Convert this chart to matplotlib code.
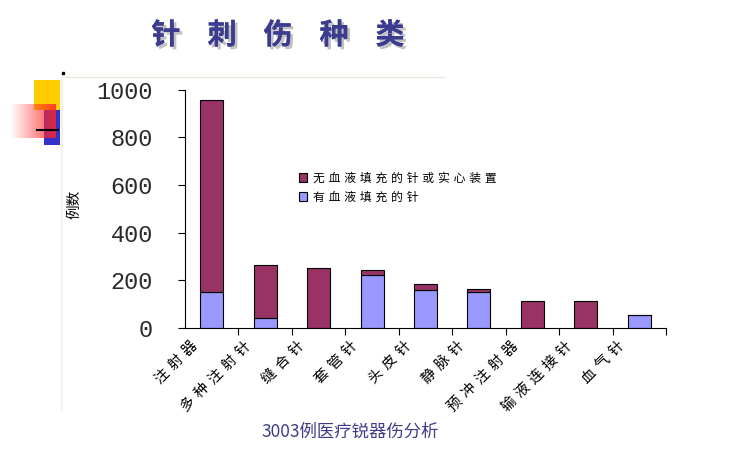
import numpy as np
import matplotlib.pyplot as plt
import matplotlib.patheffects as pe

plt.rcParams['font.family'] = ['Noto Sans CJK SC', 'DejaVu Sans']

# --- データ ---
title_chars = ['针', '刺', '伤', '种', '类']
categories = ['注射器', '多种注射针', '缝合针', '套管针', '头皮针',
              '静脉针', '预冲注射器', '输液连接针', '血气针']
blood_filled = [150, 42, 0, 222, 161, 152, 0, 0, 55]
no_blood = [805, 221, 252, 20, 22, 12, 115, 115, 0]
legend_labels = ['无血液填充的针或实心装置', '有血液填充的针']
y_ticks = [0, 200, 400, 600, 800, 1000]

c_purple = '#993366'
c_blue = '#9999ff'


def spaced(s, gap='\u2005'):
    # 文字間を少し空ける
    return gap.join(s)


fig = plt.figure(figsize=(7.5, 4.5), dpi=100)

# --- 背景の飾り ---
deco = fig.add_axes([0, 0, 1, 1], zorder=-1)
deco.set_xlim(0, 750)
deco.set_ylim(450, 0)
deco.axis('off')
deco.plot([65, 445], [77, 77], color='#ebe7dc', lw=1)
deco.plot([62, 62], [80, 410], color='#f3f1ea', lw=1.5)
deco.add_patch(plt.Rectangle((34, 80), 26, 30, color='#ffcc00', lw=0))
deco.add_patch(plt.Rectangle((44, 110), 16, 35, color='#3333cc', lw=0))
grad = np.linspace(0, 1, 100)
img = np.zeros((1, 100, 4))
img[..., 0] = 1.0
img[..., 1] = 0.15
img[..., 2] = 0.15
img[..., 3] = grad * 0.85
deco.imshow(img, extent=(10, 56, 138, 104), aspect='auto', zorder=2)
deco.plot([37, 58], [130, 130], color='black', lw=1.5, zorder=3)
deco.plot([63], [73], 's', color='black', ms=2)

for k, ch in enumerate(title_chars):
    deco.text(166 + 56 * k, 35, ch, ha='center', va='center', fontsize=21,
              fontweight='bold', color='#3b3b8f',
              path_effects=[pe.withSimplePatchShadow(offset=(2, -2), shadow_rgbFace='#999999', alpha=0.6),
                            pe.Normal()])
fig.text(0.467, 0.04, '3003例医疗锐器伤分析', ha='center', va='center',
         fontsize=12.5, color='#3d3d8a')

# --- グラフ本体 ---
ax = fig.add_axes([0.2467, 0.2711, 0.6413, 0.5300])
x = np.arange(len(categories))
ax.bar(x, blood_filled, width=0.43, color=c_blue, edgecolor='black', lw=0.8,
       label=spaced(legend_labels[1], '\u2004'))
ax.bar(x, no_blood, width=0.43, bottom=blood_filled, color=c_purple,
       edgecolor='black', lw=0.8, label=spaced(legend_labels[0], '\u2004'))

ax.set_xlim(-0.5, len(categories) - 0.5)
ax.set_ylim(0, 1000)
ax.spines['top'].set_visible(False)
ax.spines['right'].set_visible(False)

ax.set_yticks(y_ticks)
ax.set_yticklabels([str(v) for v in y_ticks], family='Liberation Mono',
                   fontsize=17, color='#2a2a2a')
ax.tick_params(axis='y', direction='out', length=5, pad=18)

ax.set_xticks(np.arange(len(categories)) + 0.5)
ax.set_xticklabels([])
ax.tick_params(axis='x', direction='out', length=5)
for i, name in enumerate(categories):
    ax.text(i - 0.4, -45, spaced(name, '\u2004'), rotation=45, ha='right', va='top',
            rotation_mode='anchor', fontsize=10.5)

ax.set_ylabel('例数', fontsize=10.5)
ax.yaxis.set_label_coords(-0.215, 0.52)

handles, labels = ax.get_legend_handles_labels()
ax.legend(handles[::-1], labels[::-1], loc='upper left', bbox_to_anchor=(0.215, 0.7),
          frameon=False, fontsize=8.5, handlelength=0.7, handleheight=0.7,
          handletextpad=0.5, labelspacing=0.5)

plt.savefig('out.png', dpi=100)
